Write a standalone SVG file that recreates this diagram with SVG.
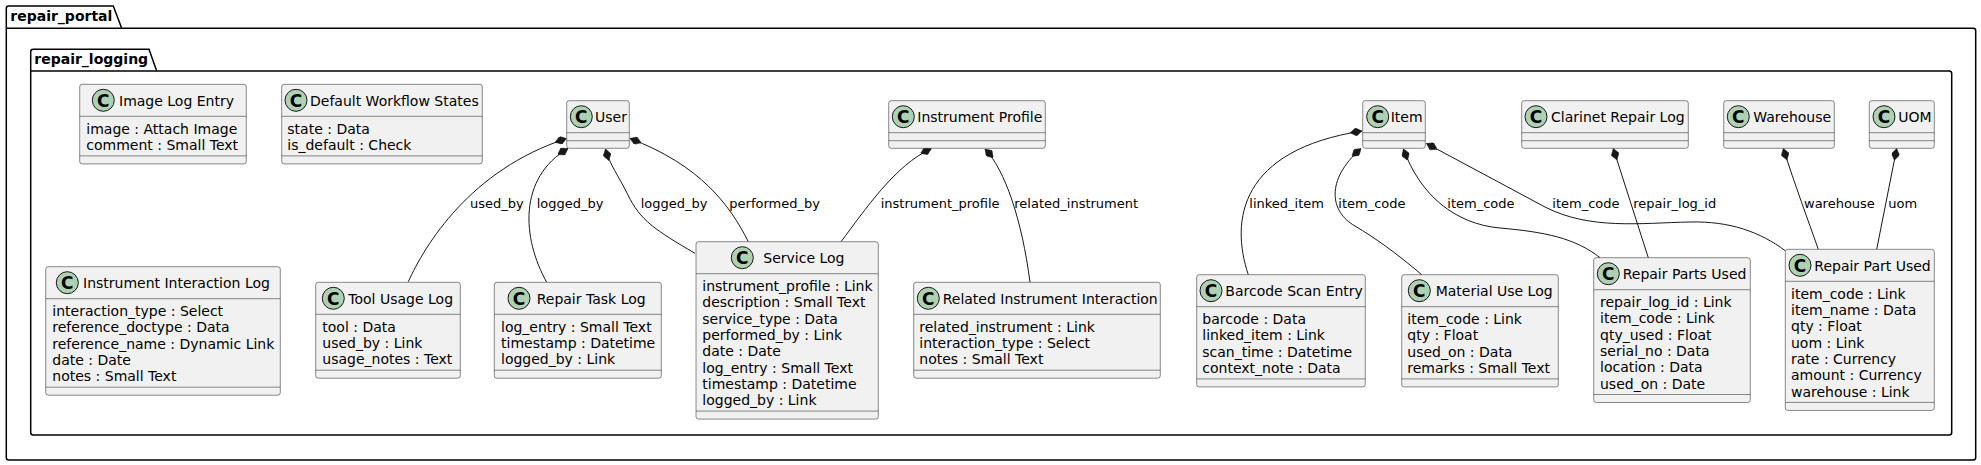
<svg xmlns="http://www.w3.org/2000/svg" width="1981" height="465" viewBox="0 0 1981 465">
<style>
.pkg{fill:none;stroke:#000;stroke-width:1.5}
.pt{font-family:"DejaVu Sans",sans-serif;font-size:14px;font-weight:bold;fill:#000}
.box{fill:#F1F1F1;stroke:#181818;stroke-width:0.5}
.sep{stroke:#181818;stroke-width:0.5}
.ci{fill:#ADD1B2;stroke:#181818;stroke-width:1}
.cl{font-family:"DejaVu Sans",sans-serif;font-size:17px;font-weight:bold;fill:#000;text-anchor:middle}
.ti{font-family:"DejaVu Sans",sans-serif;font-size:14px;fill:#000}
.at{font-family:"DejaVu Sans",sans-serif;font-size:14px;fill:#000}
.lk{fill:none;stroke:#181818;stroke-width:1;marker-end:url(#d)}
.lb{font-family:"DejaVu Sans",sans-serif;font-size:13px;fill:#000}
</style>
<defs>
<marker id="d" viewBox="0 0 12 8" refX="12" refY="4" markerWidth="12" markerHeight="8" markerUnits="userSpaceOnUse" orient="auto"><path d="M0,4 L6,0 L12,4 L6,8 Z" fill="#181818" stroke="#181818" stroke-width="0.5"/></marker>
</defs>
<rect width="1981" height="465" fill="#fff"/>
<g id="pkg-repair_portal">
<path class="pkg" d="M6.3,8.5 Q6.3,6 8.8,6 L113.3,6 L121.7,28.3 L1973.2,28.3 Q1975.7,28.3 1975.7,30.8 L1975.7,457.5 Q1975.7,460 1973.2,460 L8.8,460 Q6.3,460 6.3,457.5 Z"/>
<path class="pkg" d="M6.3,28.3 L121.7,28.3"/>
<text class="pt" x="10.3" y="21">repair_portal</text>
</g>
<g id="pkg-repair_logging">
<path class="pkg" d="M30.7,51.8 Q30.7,49.3 33.2,49.3 L149,49.3 L156.7,71 L1949.2,71 Q1951.7,71 1951.7,73.5 L1951.7,432.5 Q1951.7,435 1949.2,435 L33.2,435 Q30.7,435 30.7,432.5 Z"/>
<path class="pkg" d="M30.7,71 L156.7,71"/>
<text class="pt" x="34.3" y="63.5">repair_logging</text>
</g>

<g id="connectors">
<path class="lk" d="M408.3,281.7 C425,245 470,170 566.5,138.5"/>
<path class="lk" d="M546.7,282.3 C522,238 518,178 568,148.5"/>
<path class="lk" d="M695,253.3 C655,230 640,220 628,195 C618,175 610,165 605.5,149"/>
<path class="lk" d="M748.3,241.7 C730,205 700,165 630,138.5"/>
<path class="lk" d="M841,241.7 C865,210 895,165 931.5,148.5"/>
<path class="lk" d="M1030,282.3 C1022,220 1005,170 985,149"/>
<path class="lk" d="M1248.3,274.7 C1230,220 1240,150 1362,131"/>
<path class="lk" d="M1421.7,274.7 C1395,252 1375,238 1355,226 C1330,212 1325,180 1361,148.5"/>
<path class="lk" d="M1600,257.7 C1575,238 1545,232 1500,228 C1455,224 1420,195 1403.5,149"/>
<path class="lk" d="M1785.3,250.7 C1760,232 1730,221 1690,222 C1640,223 1590,230 1545,207 L1426.5,143.5"/>
<path class="lk" d="M1648.3,257.7 L1613.3,148.5"/>
<path class="lk" d="M1818.3,249.3 C1808,220 1795,185 1783.3,148.5"/>
<path class="lk" d="M1876.7,249.3 L1896.7,148.5"/>
<text class="lb" x="470" y="207.7">used_by</text>
<text class="lb" x="536.7" y="207.7">logged_by</text>
<text class="lb" x="640.7" y="207.7">logged_by</text>
<text class="lb" x="729.3" y="207.7">performed_by</text>
<text class="lb" x="880.7" y="207.7">instrument_profile</text>
<text class="lb" x="1014.3" y="207.7">related_instrument</text>
<text class="lb" x="1249.3" y="207.7">linked_item</text>
<text class="lb" x="1338.3" y="207.7">item_code</text>
<text class="lb" x="1447.3" y="207.7">item_code</text>
<text class="lb" x="1552.3" y="207.7">item_code</text>
<text class="lb" x="1633.3" y="207.7">repair_log_id</text>
<text class="lb" x="1804" y="207.7">warehouse</text>
<text class="lb" x="1888.3" y="207.7">uom</text>
</g>

<g id="image-log-entry">
<rect class="box" x="79.7" y="84.3" width="166.6" height="79.6" rx="2.5"/>
<line class="sep" x1="79.7" y1="116.3" x2="246.3" y2="116.3"/>
<line class="sep" x1="79.7" y1="155.9" x2="246.3" y2="155.9"/>
<circle class="ci" cx="103.3" cy="100.3" r="11"/><text class="cl" x="103.3" y="106.5">C</text>
<text class="ti" x="119" y="105.8">Image Log Entry</text>
<text class="at" x="86.3" y="133.7">image : Attach Image</text>
<text class="at" x="86.3" y="150">comment : Small Text</text>
</g>

<g id="default-workflow-states">
<rect class="box" x="281.7" y="84.3" width="200.6" height="79.6" rx="2.5"/>
<line class="sep" x1="281.7" y1="116.3" x2="482.3" y2="116.3"/>
<line class="sep" x1="281.7" y1="155.9" x2="482.3" y2="155.9"/>
<circle class="ci" cx="296" cy="100.3" r="11"/><text class="cl" x="296" y="106.5">C</text>
<text class="ti" x="310" y="105.8">Default Workflow States</text>
<text class="at" x="287.3" y="133.7">state : Data</text>
<text class="at" x="287.3" y="150">is_default : Check</text>
</g>

<g id="instrument-interaction-log">
<rect class="box" x="45.7" y="266.7" width="234.6" height="128.5" rx="2.5"/>
<line class="sep" x1="45.7" y1="298.7" x2="280.3" y2="298.7"/>
<line class="sep" x1="45.7" y1="387.2" x2="280.3" y2="387.2"/>
<circle class="ci" cx="67.3" cy="282.7" r="11"/><text class="cl" x="67.3" y="288.9">C</text>
<text class="ti" x="83" y="288.2">Instrument Interaction Log</text>
<text class="at" x="52.3" y="316.1">interaction_type : Select</text>
<text class="at" x="52.3" y="332.4">reference_doctype : Data</text>
<text class="at" x="52.3" y="348.7">reference_name : Dynamic Link</text>
<text class="at" x="52.3" y="365">date : Date</text>
<text class="at" x="52.3" y="381.3">notes : Small Text</text>
</g>

<g id="tool-usage-log">
<rect class="box" x="315.7" y="282.3" width="144.6" height="95.9" rx="2.5"/>
<line class="sep" x1="315.7" y1="314.3" x2="460.3" y2="314.3"/>
<line class="sep" x1="315.7" y1="370.2" x2="460.3" y2="370.2"/>
<circle class="ci" cx="333.3" cy="298.3" r="11"/><text class="cl" x="333.3" y="304.5">C</text>
<text class="ti" x="348.3" y="303.8">Tool Usage Log</text>
<text class="at" x="322.3" y="331.7">tool : Data</text>
<text class="at" x="322.3" y="348">used_by : Link</text>
<text class="at" x="322.3" y="364.3">usage_notes : Text</text>
</g>

<g id="repair-task-log">
<rect class="box" x="494.3" y="282.3" width="167" height="95.9" rx="2.5"/>
<line class="sep" x1="494.3" y1="314.3" x2="661.3" y2="314.3"/>
<line class="sep" x1="494.3" y1="370.2" x2="661.3" y2="370.2"/>
<circle class="ci" cx="519" cy="298.3" r="11"/><text class="cl" x="519" y="304.5">C</text>
<text class="ti" x="536.7" y="303.8">Repair Task Log</text>
<text class="at" x="501" y="331.7">log_entry : Small Text</text>
<text class="at" x="501" y="348">timestamp : Datetime</text>
<text class="at" x="501" y="364.3">logged_by : Link</text>
</g>

<g id="service-log">
<rect class="box" x="696" y="241.7" width="182.3" height="177.4" rx="2.5"/>
<line class="sep" x1="696" y1="273.7" x2="878.3" y2="273.7"/>
<line class="sep" x1="696" y1="411.1" x2="878.3" y2="411.1"/>
<circle class="ci" cx="742.3" cy="257.7" r="11"/><text class="cl" x="742.3" y="263.9">C</text>
<text class="ti" x="763.3" y="263.2">Service Log</text>
<text class="at" x="702.3" y="291.1">instrument_profile : Link</text>
<text class="at" x="702.3" y="307.4">description : Small Text</text>
<text class="at" x="702.3" y="323.7">service_type : Data</text>
<text class="at" x="702.3" y="340">performed_by : Link</text>
<text class="at" x="702.3" y="356.3">date : Date</text>
<text class="at" x="702.3" y="372.6">log_entry : Small Text</text>
<text class="at" x="702.3" y="388.9">timestamp : Datetime</text>
<text class="at" x="702.3" y="405.2">logged_by : Link</text>
</g>

<g id="user">
<rect class="box" x="566.7" y="100.7" width="62.6" height="47.6" rx="2.5"/>
<line class="sep" x1="566.7" y1="132.7" x2="629.3" y2="132.7"/>
<line class="sep" x1="566.7" y1="140.7" x2="629.3" y2="140.7"/>
<circle class="ci" cx="581.3" cy="116.7" r="11"/><text class="cl" x="581.3" y="122.9">C</text>
<text class="ti" x="595" y="122.2">User</text>
</g>

<g id="instrument-profile">
<rect class="box" x="888.7" y="100.7" width="156.6" height="47.6" rx="2.5"/>
<line class="sep" x1="888.7" y1="132.7" x2="1045.3" y2="132.7"/>
<line class="sep" x1="888.7" y1="140.7" x2="1045.3" y2="140.7"/>
<circle class="ci" cx="903.3" cy="116.7" r="11"/><text class="cl" x="903.3" y="122.9">C</text>
<text class="ti" x="917.3" y="122.2">Instrument Profile</text>
</g>

<g id="related-instrument-interaction">
<rect class="box" x="913.7" y="282.3" width="246.6" height="95.9" rx="2.5"/>
<line class="sep" x1="913.7" y1="314.3" x2="1160.3" y2="314.3"/>
<line class="sep" x1="913.7" y1="370.2" x2="1160.3" y2="370.2"/>
<circle class="ci" cx="928.3" cy="298.3" r="11"/><text class="cl" x="928.3" y="304.5">C</text>
<text class="ti" x="942.7" y="303.8">Related Instrument Interaction</text>
<text class="at" x="919.3" y="331.7">related_instrument : Link</text>
<text class="at" x="919.3" y="348">interaction_type : Select</text>
<text class="at" x="919.3" y="364.3">notes : Small Text</text>
</g>

<g id="barcode-scan-entry">
<rect class="box" x="1196.7" y="274.7" width="168.6" height="112.2" rx="2.5"/>
<line class="sep" x1="1196.7" y1="306.7" x2="1365.3" y2="306.7"/>
<line class="sep" x1="1196.7" y1="378.9" x2="1365.3" y2="378.9"/>
<circle class="ci" cx="1211" cy="290.7" r="11"/><text class="cl" x="1211" y="296.9">C</text>
<text class="ti" x="1225.3" y="296.2">Barcode Scan Entry</text>
<text class="at" x="1202.3" y="324.1">barcode : Data</text>
<text class="at" x="1202.3" y="340.4">linked_item : Link</text>
<text class="at" x="1202.3" y="356.7">scan_time : Datetime</text>
<text class="at" x="1202.3" y="373">context_note : Data</text>
</g>

<g id="material-use-log">
<rect class="box" x="1401.7" y="274.7" width="156.6" height="112.2" rx="2.5"/>
<line class="sep" x1="1401.7" y1="306.7" x2="1558.3" y2="306.7"/>
<line class="sep" x1="1401.7" y1="378.9" x2="1558.3" y2="378.9"/>
<circle class="ci" cx="1419.3" cy="290.7" r="11"/><text class="cl" x="1419.3" y="296.9">C</text>
<text class="ti" x="1435.7" y="296.2">Material Use Log</text>
<text class="at" x="1407.3" y="324.1">item_code : Link</text>
<text class="at" x="1407.3" y="340.4">qty : Float</text>
<text class="at" x="1407.3" y="356.7">used_on : Data</text>
<text class="at" x="1407.3" y="373">remarks : Small Text</text>
</g>

<g id="item">
<rect class="box" x="1362.7" y="100.7" width="62.6" height="47.6" rx="2.5"/>
<line class="sep" x1="1362.7" y1="132.7" x2="1425.3" y2="132.7"/>
<line class="sep" x1="1362.7" y1="140.7" x2="1425.3" y2="140.7"/>
<circle class="ci" cx="1377.7" cy="116.7" r="11"/><text class="cl" x="1377.7" y="122.9">C</text>
<text class="ti" x="1390.7" y="122.2">Item</text>
</g>

<g id="clarinet-repair-log">
<rect class="box" x="1521.7" y="100.7" width="166.6" height="47.6" rx="2.5"/>
<line class="sep" x1="1521.7" y1="132.7" x2="1688.3" y2="132.7"/>
<line class="sep" x1="1521.7" y1="140.7" x2="1688.3" y2="140.7"/>
<circle class="ci" cx="1536" cy="116.7" r="11"/><text class="cl" x="1536" y="122.9">C</text>
<text class="ti" x="1551" y="122.2">Clarinet Repair Log</text>
</g>

<g id="repair-parts-used">
<rect class="box" x="1593.7" y="257.7" width="156.6" height="144.8" rx="2.5"/>
<line class="sep" x1="1593.7" y1="289.7" x2="1750.3" y2="289.7"/>
<line class="sep" x1="1593.7" y1="394.5" x2="1750.3" y2="394.5"/>
<circle class="ci" cx="1608.3" cy="273.7" r="11"/><text class="cl" x="1608.3" y="279.9">C</text>
<text class="ti" x="1622.7" y="279.2">Repair Parts Used</text>
<text class="at" x="1600" y="307.1">repair_log_id : Link</text>
<text class="at" x="1600" y="323.4">item_code : Link</text>
<text class="at" x="1600" y="339.7">qty_used : Float</text>
<text class="at" x="1600" y="356">serial_no : Data</text>
<text class="at" x="1600" y="372.3">location : Data</text>
<text class="at" x="1600" y="388.6">used_on : Date</text>
</g>

<g id="warehouse">
<rect class="box" x="1723.7" y="100.7" width="110.6" height="47.6" rx="2.5"/>
<line class="sep" x1="1723.7" y1="132.7" x2="1834.3" y2="132.7"/>
<line class="sep" x1="1723.7" y1="140.7" x2="1834.3" y2="140.7"/>
<circle class="ci" cx="1738.3" cy="116.7" r="11"/><text class="cl" x="1738.3" y="122.9">C</text>
<text class="ti" x="1753.3" y="122.2">Warehouse</text>
</g>

<g id="uom">
<rect class="box" x="1869.3" y="100.7" width="65" height="47.6" rx="2.5"/>
<line class="sep" x1="1869.3" y1="132.7" x2="1934.3" y2="132.7"/>
<line class="sep" x1="1869.3" y1="140.7" x2="1934.3" y2="140.7"/>
<circle class="ci" cx="1884" cy="116.7" r="11"/><text class="cl" x="1884" y="122.9">C</text>
<text class="ti" x="1898.3" y="122.2">UOM</text>
</g>

<g id="repair-part-used">
<rect class="box" x="1785.3" y="249.3" width="149" height="161.1" rx="2.5"/>
<line class="sep" x1="1785.3" y1="281.3" x2="1934.3" y2="281.3"/>
<line class="sep" x1="1785.3" y1="402.4" x2="1934.3" y2="402.4"/>
<circle class="ci" cx="1800" cy="265.3" r="11"/><text class="cl" x="1800" y="271.5">C</text>
<text class="ti" x="1814.3" y="270.8">Repair Part Used</text>
<text class="at" x="1791" y="298.7">item_code : Link</text>
<text class="at" x="1791" y="315">item_name : Data</text>
<text class="at" x="1791" y="331.3">qty : Float</text>
<text class="at" x="1791" y="347.6">uom : Link</text>
<text class="at" x="1791" y="363.9">rate : Currency</text>
<text class="at" x="1791" y="380.2">amount : Currency</text>
<text class="at" x="1791" y="396.5">warehouse : Link</text>
</g>
</svg>
